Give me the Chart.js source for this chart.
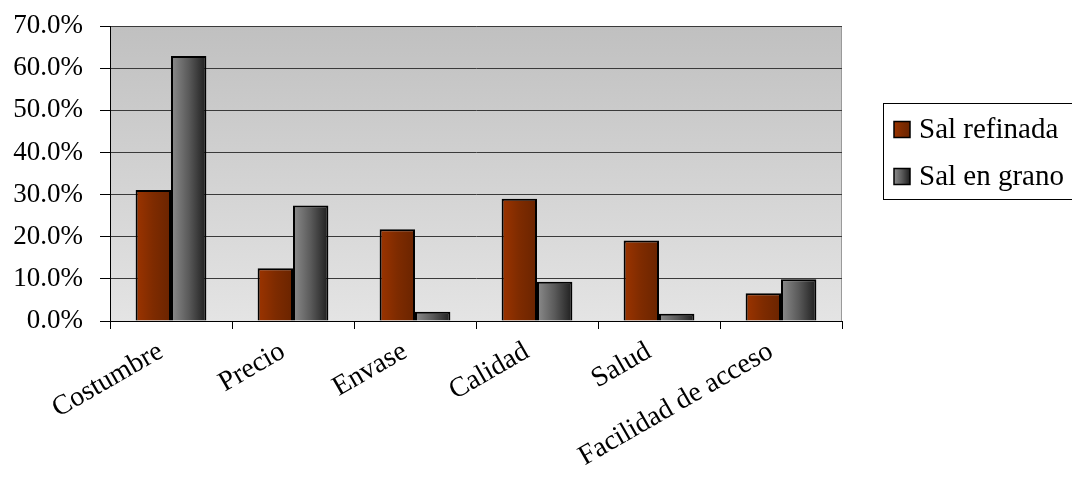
<!DOCTYPE html>
<html>
<head>
<meta charset="utf-8">
<script src="https://cdn.jsdelivr.net/npm/chart.js@4/dist/chart.umd.min.js"></script>
<style>
  html, body { margin: 0; padding: 0; background: #fff; }
  #wrap { width: 1072px; height: 494px; position: relative; }
</style>
</head>
<body>
<div id="wrap"><canvas id="c" width="1072" height="494"></canvas></div>
<script>
const categories = ["Costumbre", "Precio", "Envase", "Calidad", "Salud", "Facilidad de acceso"];
const salRefinada = [31.1, 12.5, 21.8, 29.0, 19.1, 6.6];
const salEnGrano = [62.9, 27.4, 2.2, 9.3, 1.7, 9.9];
const seriesNames = ["Sal refinada", "Sal en grano"];
const yTicks = [0, 10, 20, 30, 40, 50, 60, 70];

const FONT = "'Liberation Serif', 'Times New Roman', serif";
const CAT_PCT = 0.58;

// horizontal shading stops for each series
const shades = [
  ["#9c3400", "#7e2b00", "#6a2400"],
  ["#8c8c8c", "#5a5a5a", "#1e1e1e"]
];

function barFill(ctx) {
  const chart = ctx.chart;
  const xs = chart.scales.x;
  const stops = shades[ctx.datasetIndex];
  if (!chart.chartArea || !xs || ctx.dataIndex === undefined) return stops[0];
  const step = xs.getPixelForValue(1) - xs.getPixelForValue(0);
  const w = step * CAT_PCT / 2;
  const center = xs.getPixelForValue(ctx.dataIndex);
  const left = ctx.datasetIndex === 0 ? center - w : center;
  const g = chart.ctx.createLinearGradient(left, 0, left + w, 0);
  g.addColorStop(0, stops[0]);
  g.addColorStop(0.5, stops[1]);
  g.addColorStop(1, stops[2]);
  return g;
}

const plotBackground = {
  id: "plotBackground",
  beforeDraw(chart) {
    const { ctx, chartArea: a } = chart;
    const g = ctx.createLinearGradient(0, a.top, 0, a.bottom);
    g.addColorStop(0, "#c0c0c0");
    g.addColorStop(1, "#e4e4e4");
    ctx.save();
    ctx.fillStyle = g;
    ctx.fillRect(a.left, a.top, a.right - a.left, a.bottom - a.top);
    ctx.strokeStyle = "#9a9a9a";
    ctx.lineWidth = 1;
    ctx.beginPath();
    ctx.moveTo(a.left, a.top + 0.5);
    ctx.lineTo(a.right - 0.5, a.top + 0.5);
    ctx.lineTo(a.right - 0.5, a.bottom);
    ctx.stroke();
    ctx.restore();
  }
};

const boxedLegend = {
  id: "boxedLegend",
  afterDraw(chart) {
    const ctx = chart.ctx;
    const bx = 883, by = 103, bw = 200, bh = 96;
    ctx.save();
    ctx.fillStyle = "#ffffff";
    ctx.fillRect(bx, by, bw, bh);
    ctx.strokeStyle = "#000";
    ctx.lineWidth = 1;
    ctx.strokeRect(bx + 0.5, by + 0.5, bw, bh);
    ctx.font = "29px " + FONT;
    ctx.textBaseline = "alphabetic";
    chart.data.datasets.forEach((ds, i) => {
      const cy = 129.5 + i * 47;
      const sx = 894, s = 16;
      const st = shades[i];
      const g = ctx.createLinearGradient(sx, 0, sx + s, 0);
      g.addColorStop(0, st[0]); g.addColorStop(0.5, st[1]); g.addColorStop(1, st[2]);
      ctx.fillStyle = g;
      ctx.fillRect(sx, cy - s / 2, s, s);
      ctx.lineWidth = 1.5;
      ctx.strokeStyle = "#000";
      ctx.strokeRect(sx, cy - s / 2, s, s);
      ctx.fillStyle = "#000";
      ctx.fillText(ds.label, 919, cy + 8);
    });
    ctx.restore();
  }
};

const barStyle = {
  backgroundColor: barFill,
  borderColor: "#000",
  borderWidth: 2,
  categoryPercentage: CAT_PCT,
  barPercentage: 1.0
};

new Chart(document.getElementById("c"), {
  type: "bar",
  data: {
    labels: categories,
    datasets: [
      Object.assign({ label: seriesNames[0], data: salRefinada }, barStyle),
      Object.assign({ label: seriesNames[1], data: salEnGrano }, barStyle)
    ]
  },
  options: {
    responsive: false,
    animation: false,
    devicePixelRatio: 1,
    layout: { padding: { top: 26, right: 230, left: 0, bottom: 0 } },
    plugins: {
      legend: { display: false },
      tooltip: { enabled: false },
      colors: { enabled: false }
    },
    scales: {
      x: {
        offset: true,
        grid: {
          offset: true,
          drawOnChartArea: false,
          color: "#000",
          tickLength: 8,
          tickWidth: 1
        },
        border: { color: "#000", width: 1 },
        ticks: {
          color: "#000",
          font: { family: FONT, size: 28 },
          minRotation: 30,
          maxRotation: 30,
          padding: 6,
          labelOffset: -10,
          autoSkip: false
        },
        afterFit(s) { s.height = 173; s.paddingLeft = 0; s.paddingRight = 0; }
      },
      y: {
        min: 0,
        max: 70,
        afterBuildTicks(s) { s.ticks = yTicks.map(v => ({ value: v })); },
        grid: {
          color: "#3a3a3a",
          lineWidth: 1,
          tickColor: "#000",
          tickLength: 10
        },
        border: { color: "#000", width: 1 },
        ticks: {
          color: "#000",
          font: { family: FONT, size: 27 },
          padding: 17,
          callback: v => v.toFixed(1) + "%"
        },
        afterFit(s) { s.width = 110; s.paddingTop = 0; s.paddingBottom = 0; }
      }
    }
  },
  plugins: [plotBackground, boxedLegend]
});
</script>
</body>
</html>
